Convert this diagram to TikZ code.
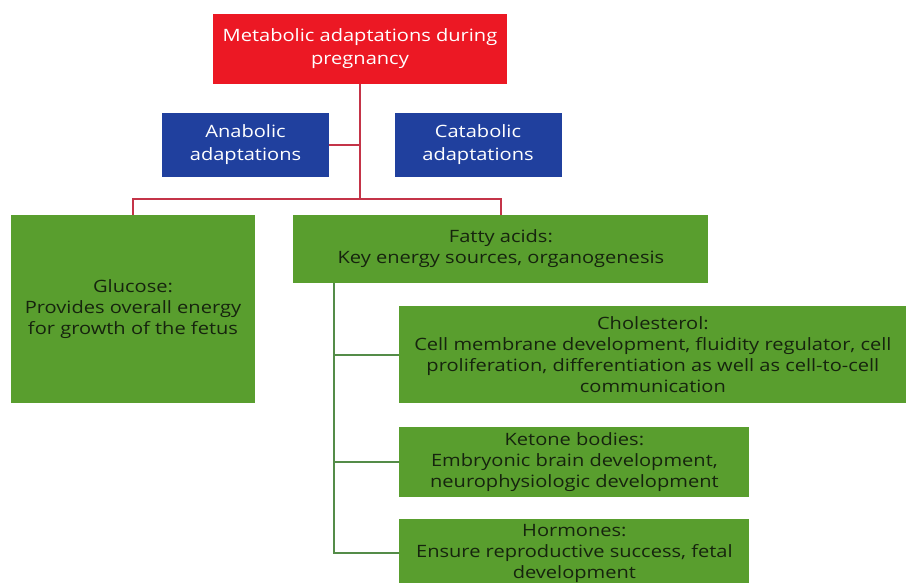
\documentclass[tikz,border=0pt]{standalone}
\usepackage{fontspec}
\setmainfont{Open Sans}[FakeStretch=1.18]
\usetikzlibrary{positioning}
\definecolor{topred}{RGB}{236,24,36}
\definecolor{adblue}{RGB}{32,64,158}
\definecolor{leafgreen}{RGB}{89,158,46}
\definecolor{linkred}{RGB}{196,52,72}
\definecolor{stemgreen}{RGB}{84,140,72}
\definecolor{darktext}{RGB}{22,36,14}
\tikzset{
  box/.style={inner sep=2pt, align=center, font=\fontsize{17}{21}\selectfont},
  title/.style={box, fill=topred, text=white, minimum width=294pt, minimum height=70pt},
  adapt/.style={box, fill=adblue, text=white, minimum width=167pt, minimum height=64pt},
  leaf/.style={box, fill=leafgreen, text=darktext},
  link/.style={draw=linkred, line width=2pt},
  branch/.style={draw=stemgreen, line width=2pt}
}

\begin{document}
\begin{tikzpicture}[x=1pt, y=-1pt]
\useasboundingbox (0,0) rectangle (906,583);
\node[title, font=\fontsize{17}{23}\selectfont] (meta) at (360,49) {Metabolic adaptations during\\pregnancy};
\node[adapt, font=\fontsize{17}{23}\selectfont] (anab) at (245.5,145) {Anabolic\\adaptations};
\node[adapt, font=\fontsize{17}{23}\selectfont] (catab) at (478,145) {Catabolic\\adaptations};
\node[leaf, minimum width=244pt, minimum height=188pt] (gluc) at (133,309) {Glucose:\\Provides overall energy\\for growth of the fetus};
\node[leaf, minimum width=415pt, minimum height=68pt, right=38pt of gluc.north east, anchor=north west] (fatty) {Fatty acids:\\Key energy sources, organogenesis};
\node[leaf, minimum width=507pt, minimum height=97pt, below right=23pt and 106pt of fatty.south west] (chol) {Cholesterol:\\Cell membrane development, fluidity regulator, cell\\proliferation, differentiation as well as cell-to-cell\\communication};
\node[leaf, minimum width=350pt, minimum height=70pt, below=23pt of chol.south west, anchor=north west] (ket) {Ketone bodies:\\Embryonic brain development,\\neurophysiologic development};
\node[leaf, minimum width=350pt, minimum height=68pt, below=22pt of ket.south west, anchor=north west] (horm) {Hormones:\\Ensure reproductive success, fetal\\development};
\coordinate (split) at ([yshift=-115pt]meta.south);
\draw[link] (meta.south) -- (split);
\draw[link] (anab.east) -- (anab.east -| meta.south);
\draw[link] (gluc.north) |- (split) -| (fatty.north);
\coordinate (stem) at ([xshift=41pt]fatty.south west);
\draw[branch] (stem) |- (chol.west);
\draw[branch] (stem) |- (ket.west);
\draw[branch] (stem) |- (horm.west);
\end{tikzpicture}
\end{document}
